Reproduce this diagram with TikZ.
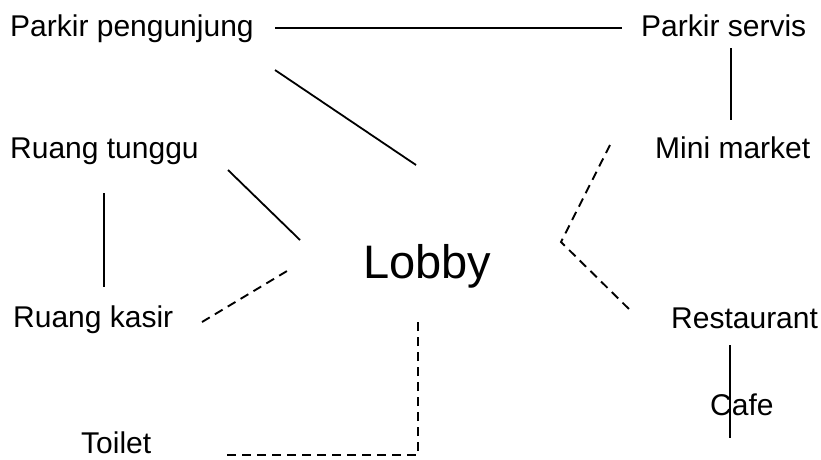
\documentclass[tikz,border=0pt]{standalone}
\usepackage{fontspec}
\setmainfont{Liberation Sans}
\begin{document}
\begin{tikzpicture}[x=1pt,y=-1pt,
  lbl/.style={anchor=base west,inner sep=0pt,font=\fontsize{30}{34}\selectfont},
  big/.style={anchor=base west,inner sep=0pt,font=\fontsize{47}{52}\selectfont},
  link/.style={line width=1.8pt},
  dlink/.style={line width=1.9pt,dash pattern=on 9pt off 6pt}]
\useasboundingbox (0,0) rectangle (821,459);
% room labels
\node[lbl] (pp) at (10,36) {Parkir pengunjung};
\node[lbl] (ps) at (641,36) {Parkir servis};
\node[lbl] (rt) at (10,158) {Ruang tunggu};
\node[lbl] (mm) at (655,158) {Mini market};
\node[big] (lb) at (363,278) {Lobby};
\node[lbl] (rk) at (13,327) {Ruang kasir};
\node[lbl] (rs) at (671,328) {Restaurant};
\node[lbl] (cf) at (710,415) {Cafe};
\node[lbl] (tl) at (81,453) {Toilet};
% connector end points
\coordinate (a1) at (275,28);  \coordinate (a2) at (622,28);
\coordinate (b1) at (275,70);  \coordinate (b2) at (416,165);
\coordinate (c1) at (228,170); \coordinate (c2) at (300,240);
\coordinate (d1) at (104,193); \coordinate (d2) at (104,287);
\coordinate (e1) at (202,322); \coordinate (e2) at (292,268);
\coordinate (f1) at (610,145); \coordinate (f2) at (561,242); \coordinate (f3) at (633,313);
\coordinate (g1) at (731,48);  \coordinate (g2) at (731,120);
\coordinate (h1) at (730,345); \coordinate (h2) at (730,438);
\coordinate (t1) at (227,455); \coordinate (t2) at (418,455); \coordinate (t3) at (418,320);
% solid connectors
\draw[link] (a1) -- (a2);
\draw[link] (b1) -- (b2);
\draw[link] (c1) -- (c2);
\draw[link] (d1) -- (d2);
\draw[link] (g1) -- (g2);
\draw[link] (h1) -- (h2);
% dashed connectors
\draw[dlink] (e1) -- (e2);
\draw[dlink] (f1) -- (f2) -- (f3);
\draw[dlink] (t1) -- (t2) -- (t3);
\end{tikzpicture}
\end{document}
